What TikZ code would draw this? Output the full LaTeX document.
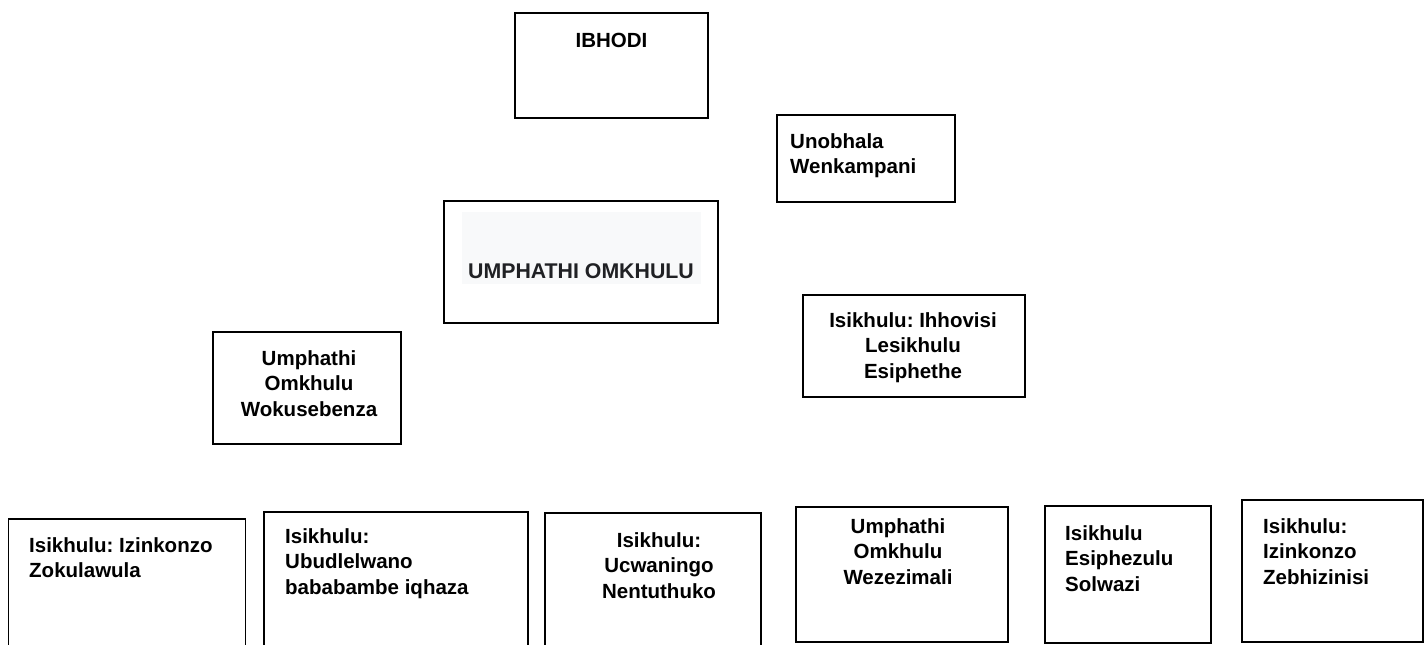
\documentclass[tikz,border=0pt]{standalone}
\usepackage{fontspec}
\setmainfont{Liberation Sans}
\usepackage{tikz}

\definecolor{panelgray}{HTML}{F8F9FA}
\definecolor{inkgray}{HTML}{202124}
\frenchspacing

\begin{document}
\begin{tikzpicture}[x=1pt,y=-1pt,
    box/.style={draw=black,line width=1.8pt,inner sep=0pt},
    lbl/.style={font=\bfseries\fontsize{20.5}{25.5}\selectfont,inner sep=0pt}]

    \clip (0,0) rectangle (1427,645);

    % board and secretary
    \node[box,minimum width=193pt,minimum height=105pt] (ibhodi) at (611.5,65.5) {};
    \node[lbl,anchor=north] (ibhodiT) at (611.5,33) {IBHODI};
    \node[box,minimum width=178pt,minimum height=87pt] (unobhala) at (866,158.5) {};
    \node[lbl,anchor=north west,align=left] (unobhalaT) at (790,133) {Unobhala\\Wenkampani};

    % chief executive
    \node[box,minimum width=274pt,minimum height=122pt] (umphathi) at (581,262) {};
    \node[fill=panelgray,minimum width=239pt,minimum height=72pt,inner sep=0pt] (umphathiBg) at (581.5,248) {};
    \node[lbl,text=inkgray,font=\bfseries\fontsize{21.3}{25}\selectfont,anchor=north] (umphathiT) at (581,263) {UMPHATHI OMKHULU};

    \node[box,minimum width=188pt,minimum height=112pt] (sebenza) at (307,388) {};
    \node[lbl,anchor=north,align=center] (sebenzaT) at (309,350) {Umphathi\\Omkhulu\\Wokusebenza};
    \node[box,minimum width=222pt,minimum height=102pt] (ihhovisi) at (914,346) {};
    \node[lbl,anchor=north,align=center] (ihhovisiT) at (913,312) {Isikhulu: Ihhovisi\\Lesikhulu\\Esiphethe};

    % bottom row
    \node[box,minimum width=237pt,minimum height=162pt] (zokulawula) at (127,600) {};
    \node[lbl,anchor=north west,align=left] (zokulawulaT) at (29,537) {Isikhulu: Izinkonzo\\Zokulawula};
    \node[box,minimum width=264pt,minimum height=168pt] (ubudlelwano) at (396,596) {};
    \node[lbl,anchor=north west,align=left] (ubudlelwanoT) at (285,528) {Isikhulu:\\Ubudlelwano\\bababambe iqhaza};
    \node[box,minimum width=216pt,minimum height=167pt] (ucwaningo) at (653,596.5) {};
    \node[lbl,anchor=north,align=center] (ucwaningoT) at (659,532) {Isikhulu:\\Ucwaningo\\Nentuthuko};
    \node[box,minimum width=212pt,minimum height=135pt] (zimali) at (902,574.5) {};
    \node[lbl,anchor=north,align=center] (zimaliT) at (898,518) {Umphathi\\Omkhulu\\Wezezimali};
    \node[box,minimum width=166pt,minimum height=137pt] (solwazi) at (1128,574.5) {};
    \node[lbl,anchor=north west,align=left] (solwaziT) at (1065,525) {Isikhulu\\Esiphezulu\\Solwazi};
    \node[box,minimum width=181pt,minimum height=142pt] (zebhizinisi) at (1332.5,571) {};
    \node[lbl,anchor=north west,align=left] (zebhiziniT) at (1263,518) {Isikhulu:\\Izinkonzo\\Zebhizinisi};
\end{tikzpicture}
\end{document}
